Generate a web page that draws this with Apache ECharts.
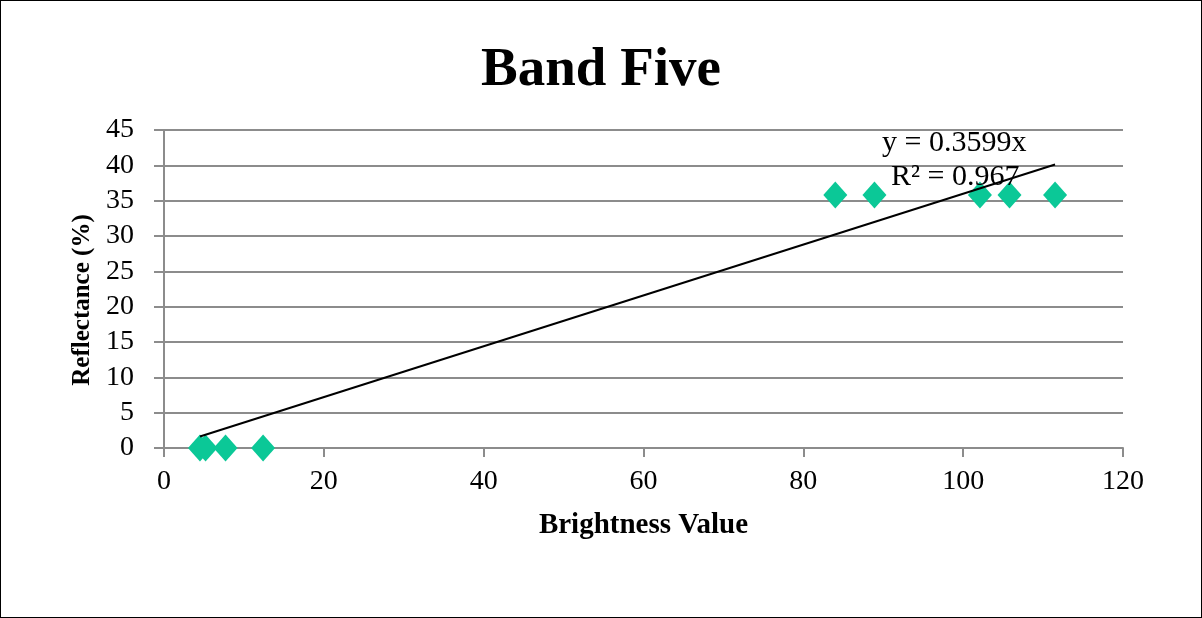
<!DOCTYPE html>
<html>
<head>
<meta charset="utf-8">
<script src="https://cdn.jsdelivr.net/npm/echarts@6/dist/echarts.min.js"></script>
<style>
  html, body { margin: 0; padding: 0; background: #fff; }
  #chart { width: 1202px; height: 618px; box-sizing: border-box; border: 1px solid #000; }
</style>
</head>
<body>
<div id="chart"></div>
<script>
// brightness value vs reflectance (%)
const brightness = [4.5, 5.2, 7.7, 12.4, 84.0, 88.9, 102.1, 105.8, 111.5];
const reflectance = [0, 0, 0, 0, 35.8, 35.8, 35.8, 35.8, 35.8];
const slope = 0.3599;
const eqText = ["y = 0.3599x", "R² = 0.967"];

const points = brightness.map((x, i) => [x, reflectance[i]]);
const xMin = Math.min(...brightness);
const xMax = Math.max(...brightness);
const trend = [[xMin, slope * xMin], [xMax, slope * xMax]];

const chart = echarts.init(document.getElementById("chart"));
const font = "'Liberation Serif', 'Times New Roman', serif";

chart.setOption({
  backgroundColor: "#fff",
  animation: false,
  textStyle: { fontFamily: font },
  title: {
    text: "Band Five",
    left: "center",
    top: 37,
    textStyle: { fontFamily: font, fontSize: 55, fontWeight: "bold", color: "#000" },
  },
  grid: { left: 163, right: 78, top: 129, bottom: 169 },
  xAxis: {
    type: "value",
    min: 0,
    max: 120,
    interval: 20,
    name: "Brightness Value",
    nameLocation: "middle",
    nameGap: 63,
    nameTextStyle: { fontFamily: font, fontSize: 29, fontWeight: "bold", color: "#000" },
    axisLine: { show: true, lineStyle: { color: "#8c8c8c", width: 2 } },
    axisTick: { show: true, length: 9, lineStyle: { color: "#8c8c8c", width: 2 } },
    axisLabel: { fontFamily: font, fontSize: 28, color: "#000", margin: 20 },
    splitLine: { show: false },
  },
  yAxis: {
    type: "value",
    min: 0,
    max: 45,
    interval: 5,
    name: "Reflectance (%)",
    nameLocation: "middle",
    nameGap: 68,
    nameTextStyle: { fontFamily: font, fontSize: 25, fontWeight: "bold", color: "#000", padding: [0, 22, 0, 0] },
    axisLine: { show: true, lineStyle: { color: "#8c8c8c", width: 2 } },
    axisTick: { show: true, length: 10, lineStyle: { color: "#8c8c8c", width: 2 } },
    axisLabel: { fontFamily: font, fontSize: 28, color: "#000", margin: 30 },
    splitLine: { show: true, lineStyle: { color: "#8c8c8c", width: 2 } },
  },
  series: [
    {
      type: "line",
      data: trend,
      symbol: "none",
      lineStyle: { color: "#000", width: 2 },
      z: 3,
    },
    {
      type: "scatter",
      data: points,
      symbol: "diamond",
      symbolSize: [24, 27],
      itemStyle: { color: "#0BC897", opacity: 1 },
      z: 2,
    },
  ],
  graphic: [
    {
      type: "text",
      left: 881,
      top: 127,
      style: { text: eqText[0], font: "30px " + font, fill: "#000" },
      z: 10,
    },
    {
      type: "text",
      left: 890,
      top: 161,
      style: { text: eqText[1], font: "30px " + font, fill: "#000" },
      z: 10,
    },
  ],
});
</script>
</body>
</html>
